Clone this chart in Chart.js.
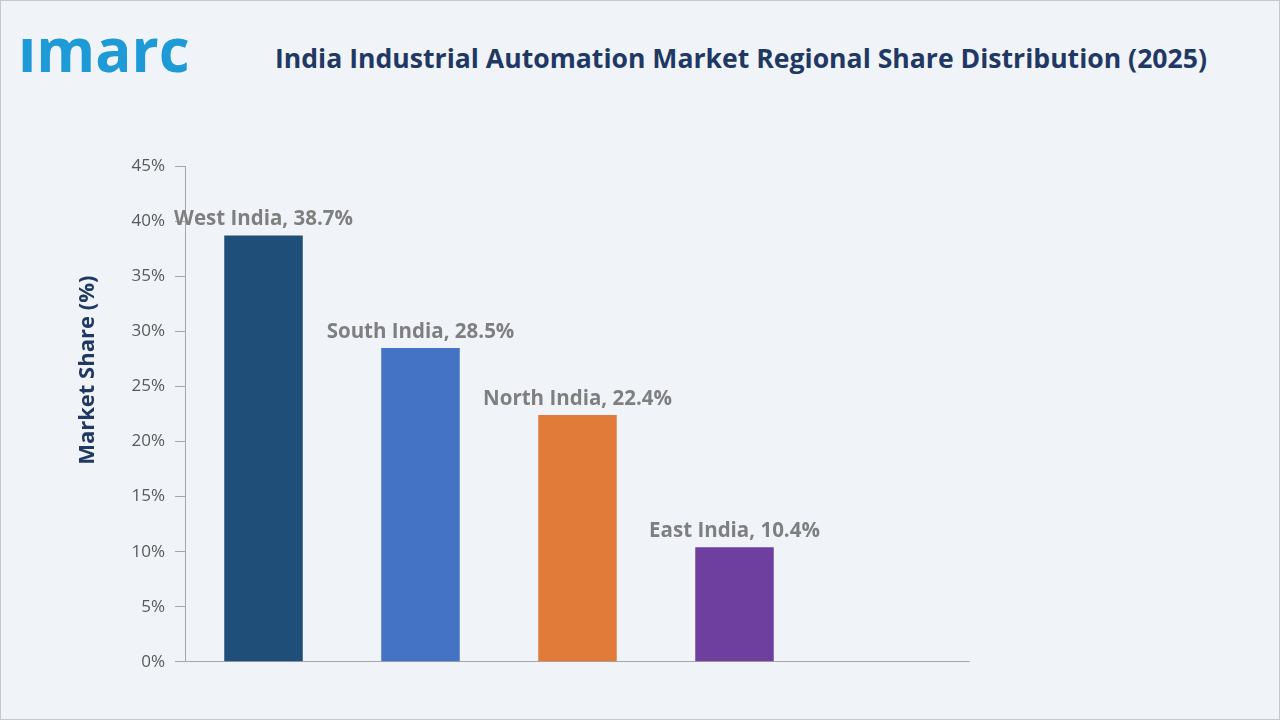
<!DOCTYPE html>
<html><head><meta charset="utf-8">
<script src="https://cdn.jsdelivr.net/npm/chart.js@4"></script>
<style>
html,body{margin:0;padding:0;}
body{width:1280px;height:720px;background:#f0f4f9;position:relative;overflow:hidden;font-family:"Open Sans",sans-serif;}
#frame{position:absolute;left:0;top:0;width:1278px;height:718px;border:1px solid #c8c8c8;}
#logo{position:absolute;left:18px;top:14px;font-family:"Open Sans",sans-serif;font-size:60px;font-weight:700;color:#1e9ad6;letter-spacing:0px;line-height:70px;}
#title{position:absolute;left:275px;top:40px;font-size:26.6px;font-weight:700;color:#1f3864;white-space:nowrap;}
#wrap{position:absolute;left:70px;top:146px;width:900px;height:536px;}
</style></head><body>
<div id="frame"></div>
<div id="logo">ımarc</div>
<div id="title">India Industrial Automation Market Regional Share Distribution (2025)</div>
<div id="wrap"><canvas id="c"></canvas></div>
<script>
const categories = ["West India","South India","North India","East India",""];
const values = [38.7,28.5,22.4,10.4,null];
const colors = ["#1f4e79","#4472c4","#e07b39","#6f3fa0","#000"];
const yTicks = [0,5,10,15,20,25,30,35,40,45];
const yTitle = "Market Share (%)";
const labelPlugin = {
  id:'lbl',
  afterDatasetsDraw(chart){
    const ctx=chart.ctx; const meta=chart.getDatasetMeta(0);
    ctx.save(); ctx.font='bold 20.5px "Open Sans"'; ctx.fillStyle='#7f7f7f'; ctx.textAlign='center'; ctx.textBaseline='bottom';
    meta.data.forEach((b,i)=>{ if(values[i]==null) return; ctx.fillText(categories[i]+', '+values[i].toFixed(1)+'%', b.x, b.y-6); });
    ctx.font='bold 22px "Open Sans"'; ctx.fillStyle='#1f3864'; ctx.textBaseline='middle';
    ctx.translate(18, chart.chartArea.top+204); ctx.rotate(-Math.PI/2); ctx.fillText(yTitle,0,0);
    ctx.restore();
  }
};
new Chart(document.getElementById('c'),{
  type:'bar',
  data:{labels:categories,datasets:[{data:values,backgroundColor:colors,categoryPercentage:1,barPercentage:0.5}]},
  options:{responsive:true,maintainAspectRatio:false,animation:false,
    layout:{padding:{top:14,right:0,bottom:0,left:0}},
    plugins:{legend:{display:false},tooltip:{enabled:false}},
    scales:{
      x:{grid:{display:false,drawTicks:false},border:{color:'#a6a6a6',width:1},ticks:{display:false},afterFit(s){}},
      y:{min:0,max:45,afterBuildTicks(s){s.ticks=yTicks.map(v=>({value:v}));},
        afterFit(s){s.width=115;},
        grid:{display:true,drawOnChartArea:false,drawTicks:true,tickLength:10,color:'#a6a6a6'},
        border:{color:'#a6a6a6',width:1},
        ticks:{color:'#595959',font:{size:17,family:'"Open Sans"'},padding:10,callback:v=>v+'%'}
      }
    }
  },
  plugins:[labelPlugin]
});
</script>
</body></html>
